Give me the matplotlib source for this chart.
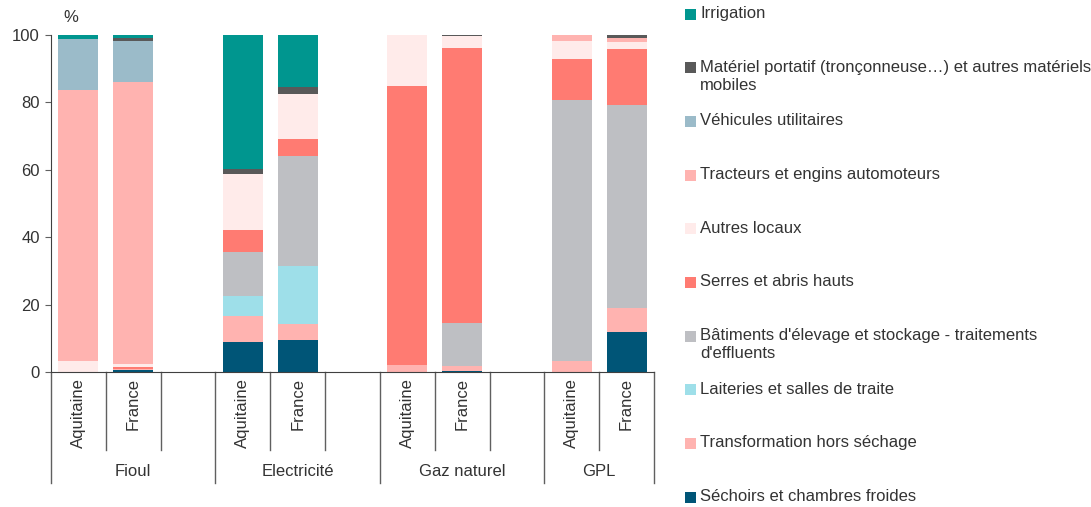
import matplotlib
matplotlib.use("Agg")
import matplotlib.pyplot as plt
from matplotlib.patches import Rectangle
import matplotlib.transforms as mtransforms

plt.rcParams["font.family"] = ["Liberation Sans", "DejaVu Sans"]

groups = ["Fioul", "Electricité", "Gaz naturel", "GPL"]
regions = ["Aquitaine", "France"]

# series from bottom of the stack to the top
series = [
    "Séchoirs et chambres froides",
    "Transformation hors séchage",
    "Laiteries et salles de traite",
    "Bâtiments d'élevage et stockage - traitements\nd'effluents",
    "Serres et abris hauts",
    "Autres locaux",
    "Tracteurs et engins automoteurs",
    "Véhicules utilitaires",
    "Matériel portatif (tronçonneuse…) et autres matériels\nmobiles",
    "Irrigation",
]
colors = ["#005577", "#FFB3B0", "#9EDFE9", "#BEBFC3", "#FF7B72",
          "#FFEBEA", "#FFB3B0", "#9BBBC9", "#595959", "#00968F"]

# order of bars: Fioul Aq/Fr, Electricité Aq/Fr, Gaz Aq/Fr, GPL Aq/Fr
sechoirs = [0, 0.5, 8.9, 9.5, 0, 0.4, 0, 11.9]
transformation = [0, 0.3, 7.8, 4.8, 2.1, 1.4, 3.3, 7.0]
laiteries = [0, 0, 5.9, 17.2, 0, 0, 0, 0.2]
batiments = [0, 0, 12.9, 32.6, 0, 12.8, 77.4, 60.1]
serres = [0, 0.7, 6.5, 4.9, 82.7, 81.5, 12.2, 16.6]
autres_locaux = [3.3, 0.8, 16.9, 13.4, 15.2, 3.6, 5.3, 2.1]
tracteurs = [80.3, 83.7, 0, 0, 0, 0, 1.8, 1.2]
vehicules = [15.2, 12.2, 0, 0, 0, 0, 0, 0]
materiel = [0, 0.9, 1.2, 2.1, 0, 0.3, 0, 0.9]
irrigation = [1.2, 0.9, 39.9, 15.5, 0, 0, 0, 0]

values = [sechoirs, transformation, laiteries, batiments, serres,
          autres_locaux, tracteurs, vehicules, materiel, irrigation]

text_color = "#333333"
line_color = "#606060"
fs = 12

fig = plt.figure(figsize=(10.91, 5.07), dpi=100)
ax = fig.add_axes([51 / 1091, 135 / 507, 603 / 1091, 337 / 507])

# 3 slots per group (bar, bar, gap), last group without gap
slots = []
for g in range(len(groups)):
    slots += [g * 3, g * 3 + 1]
x = [s + 0.5 for s in slots]

bottom = [0] * len(x)
for vals, col in zip(values, colors):
    ax.bar(x, vals, width=0.73, bottom=bottom, color=col, linewidth=0)
    bottom = [b + v for b, v in zip(bottom, vals)]

ax.set_xlim(0, 11)
ax.set_ylim(0, 100)
ax.set_yticks(range(0, 101, 20))
ax.set_xticks([])
for s in ["top", "right"]:
    ax.spines[s].set_visible(False)
ax.spines["left"].set_color("#404040")
ax.spines["bottom"].set_color("#404040")
ax.tick_params(axis="y", length=4, color=line_color, labelsize=fs,
               labelcolor=text_color, pad=4)
ax.text(71 / 1091, 489 / 507, "%", transform=fig.transFigure, fontsize=fs,
        color=text_color, ha="center", va="center")

# category axis: separators and labels below the plot
trans = mtransforms.blended_transform_factory(ax.transData, ax.transAxes)
minor_y = -(450 - 372) / 337
major_y = -(483 - 372) / 337
for b in [1, 2, 4, 5, 7, 8, 10]:
    ax.plot([b, b], [0, minor_y], transform=trans, color=line_color,
            lw=1, clip_on=False)
for b in [0, 3, 6, 9, 11]:
    ax.plot([b, b], [0, major_y], transform=trans, color=line_color,
            lw=1, clip_on=False)
for i, xi in enumerate(x):
    ax.text(xi, -0.018, regions[i % 2], transform=trans, rotation=90,
            ha="center", va="top", fontsize=fs, color=text_color)
for g, name in enumerate(groups):
    end = min(g * 3 + 3, 11)
    ax.text((g * 3 + end) / 2, -(472 - 372) / 337, name, transform=trans,
            ha="center", va="center", fontsize=fs, color=text_color)

# legend on the right, top entry = last series
for k, (name, col) in enumerate(zip(series[::-1], colors[::-1])):
    yy = 14 + 53.67 * k
    fy = 1 - yy / 507
    fig.patches.append(Rectangle((685 / 1091, fy - 5.5 / 507), 11 / 1091,
                                 11 / 507, transform=fig.transFigure,
                                 facecolor=col, edgecolor="none"))
    for j, line in enumerate(name.split("\n")):
        fig.text(700 / 1091, fy - (j * 18 - 0.5) / 507, line, fontsize=fs,
                 color=text_color, ha="left", va="center")

fig.savefig("out.png", dpi=100)
